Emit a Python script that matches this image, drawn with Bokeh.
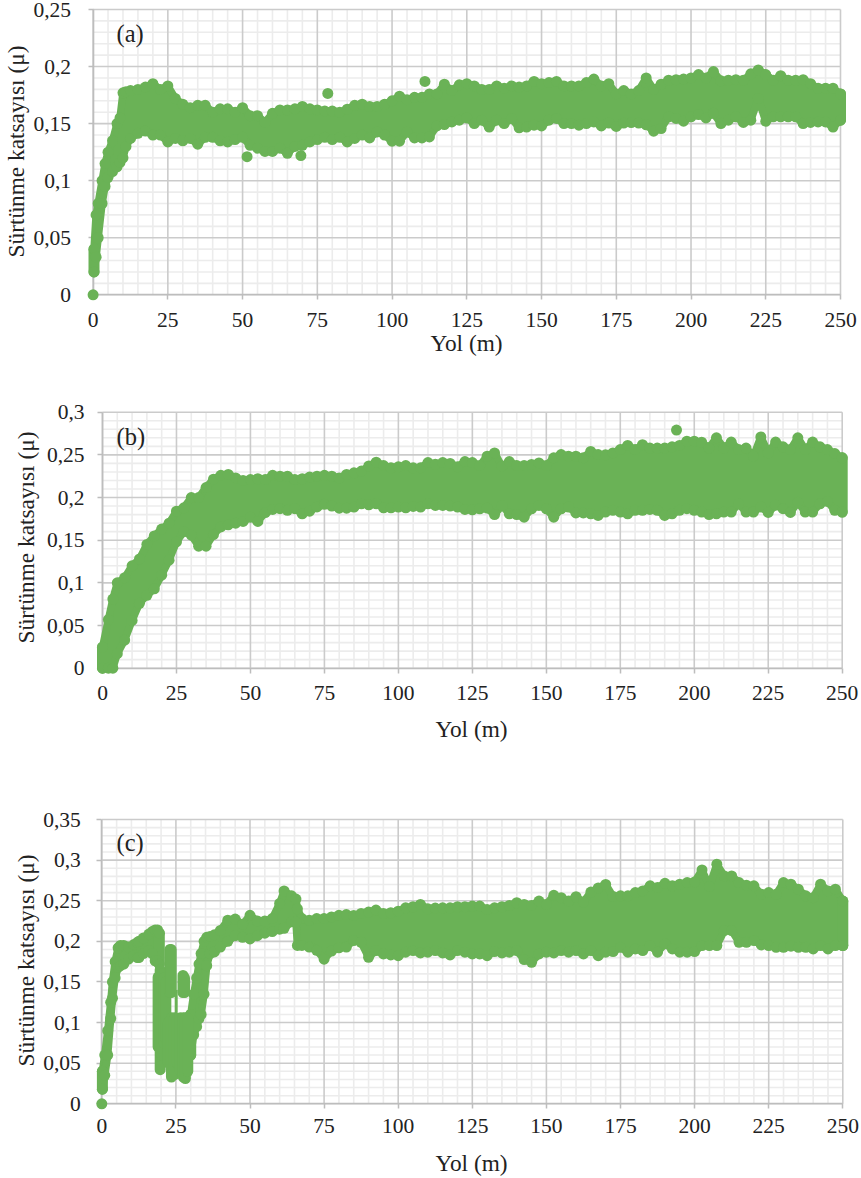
from bokeh.plotting import figure
from bokeh.layouts import column
from bokeh.models import Range1d, LinearAxis, FixedTicker, Label
from bokeh.embed import file_html
from bokeh.resources import INLINE

# ---------- data (band edges) ----------
x_tail = [85,87.5,90,92.5,95,97.5,100,102.5,105,107.5,110,112.5,115,117.5,120,122.5,125,127.5,130,132.5,135,137.5,140,142.5,145,147.5,150,152.5,155,157.5,160,162.5,165,167.5,
          170,172.5,175,177.5,180,182.5,185,187.5,190,192.5,195,197.5,200,202.5,205,207.5,210,212.5,215,217.5,220,222.5,225,227.5,230,232.5,235,237.5,240,242.5,245,247.5,250]

a_x = [0.3,1,1.7,3,4,5,6.5,8,9,10,11,12.5,15,17.5,20,22.5,25,27.5,30,32.5,35,37.5,40,42.5,45,47.5,50,52.5,55,57.5,60,62.5,65,67.5,70,72.5,75,77.5,80,82.5] + x_tail
a_hi = [.04,.07,.08,.1,.115,.125,.135,.15,.155,.177,.178,.179,.18,.182,.185,.18,.183,.172,.167,.164,.166,.166,.16,.163,.163,.16,.164,.157,.157,.151,.159,.162,.162,.163,.165,.163,.162,.161,.161,.16,
        .1626,.166,.167,.165,.165,.167,.17,.174,.171,.173,.173,.176,.176,.1845,.179,.184,.185,.183,.18,.18,.183,.181,.183,.182,.183,.187,.185,.186,.187,.183,.183,.183,.186,.189,
        .183,.185,.176,.179,.176,.179,.19,.18,.1845,.188,.1885,.189,.19,.193,.19,.1956,.1875,.188,.1885,.188,.1936,.197,.193,.188,.192,.188,.188,.1885,.185,.181,.181,.181,.176]
a_lo = [.02,.033,.05,.08,.095,.103,.108,.112,.116,.12,.13,.137,.1415,.1435,.14,.14,.134,.137,.135,.137,.132,.138,.138,.135,.134,.136,.138,.131,.1285,.1256,.1256,.1285,.124,.13,.131,.134,.136,.138,.136,.138,
        .134,.137,.14,.1375,.1427,.14,.1346,.1346,.1427,.1375,.1375,.1383,.148,.1492,.1515,.153,.155,.15,.153,.147,.153,.15,.1545,.1463,.147,.1486,.148,.153,.1545,.15,.15,.1486,.15,.1515,
        .148,.1505,.1475,.1505,.1509,.1505,.149,.1434,.1457,.156,.1545,.1521,.156,.158,.155,.159,.15,.153,.156,.151,.153,.172,.152,.156,.156,.156,.156,.15,.151,.1515,.1515,.147,.153]
a_out_x = [0,51.5,69.5,78.5,111]
a_out_y = [0,.121,.122,.1765,.187]

b_x = [0,2,3.5,5,7.5,10,12.5,15,17.5,20,22.5,25,27.5,30,32.5,35,37.5,40,42.5,45,47.5,50,52.5,55,57.5,60,62.5,65,67.5,70,72.5,75,77.5,80,82.5] + x_tail
b_hi = [.0246,.057,.081,.1,.106,.12,.128,.145,.155,.163,.17,.184,.188,.2,.2,.2117,.2215,.226,.227,.223,.22,.221,.222,.221,.226,.225,.225,.221,.222,.224,.225,.226,.225,.223,.227,
        .229,.231,.237,.2414,.2375,.2348,.236,.2375,.2348,.2348,.241,.239,.241,.24,.236,.2422,.241,.2375,.2485,.2523,.2367,.2422,.2375,.2375,.2387,.2406,.2375,.2465,.2504,.2484,.2484,.2465,.254,.2504,
        .25,.2523,.2562,.261,.2562,.262,.258,.258,.258,.2594,.261,.266,.266,.2648,.258,.27,.258,.265,.2562,.258,.2484,.271,.2523,.265,.2594,.2562,.27,.2562,.265,.2594,.2562,.2515,.2465]
b_lo = [0,0,0,.017,.033,.056,.076,.0855,.093,.109,.1266,.148,.16,.156,.143,.143,.1566,.1656,.168,.17,.172,.177,.172,.1824,.186,.187,.185,.187,.181,.184,.189,.192,.19,.1875,.1875,
        .1888,.1927,.1915,.1927,.188,.188,.1888,.188,.1896,.1888,.1927,.1907,.1907,.19,.1888,.186,.1857,.1868,.1876,.18,.1907,.181,.18,.177,.1868,.1907,.1868,.177,.1868,.1888,.182,.182,.181,.179,
        .183,.185,.183,.181,.185,.185,.186,.185,.179,.181,.185,.187,.185,.183,.18,.181,.183,.183,.1927,.183,.183,.189,.1825,.191,.187,.1825,.1946,.183,.183,.1927,.1954,.185,.183]
b_out_x = [194]
b_out_y = [.279]

# panel c: the rise up to the first dips
c1_x = [0.2,1,2,3,3.6,4.5,5.5,6.3,7.4,9,10.8,12,12.5,14,15.9,17,18,18.8,19.4]
c1_hi = [.04,.06,.09,.125,.15,.175,.192,.195,.195,.193,.196,.1986,.2,.204,.209,.212,.214,.214,.21]
c1_lo = [.018,.035,.06,.105,.13,.155,.168,.17,.172,.178,.1825,.18,.18,.185,.1887,.185,.176,.176,.172]
# panel c: the columns of the dips at 20-30 m
c_dip_x = [19,19.7,20.3,21,21.6,23,23.4,27.4,27.9,22.5,23.5,24.5,25.5,26.5,27.5,28.2,29]
c_dip_hi = [.156,.165,.16,.155,.15,.19,.19,.158,.155,.1,.106,.106,.104,.106,.106,.106,.105]
c_dip_lo = [.07,.042,.06,.075,.08,.137,.137,.137,.137,.05,.033,.036,.05,.04,.033,.031,.04]
c_link_x = [25.1]
c_link_hi = [.14]
c_link_lo = [.105]
# panel c: the rest
c2_x = [30,31,32,32.8,33.5,34.5,35.4,36.5,38,40,42.5,45,47.5,50,52.5,55,57.5,60,61.5,64,65.5,66,67.5,70,72.5,75,77.5,80,82.5] + x_tail
c2_hi = [.11,.135,.155,.172,.185,.2,.205,.206,.208,.2135,.226,.2274,.221,.232,.225,.225,.228,.2466,.262,.256,.252,.24,.228,.226,.228,.228,.23,.232,.233,
        .2319,.2343,.236,.2385,.2343,.2352,.2372,.2413,.2426,.2455,.2401,.2409,.2413,.2413,.2426,.2426,.2434,.2434,.2393,.2413,.2426,.2442,.2475,.2455,.2442,.2496,.2455,.2566,.2537,.2496,.2549,.2484,.2607,.2657,
        .27,.2552,.256,.256,.2601,.2621,.2683,.2662,.2714,.2683,.2703,.2724,.2732,.2879,.2675,.295,.2805,.2805,.2724,.2691,.2683,.2579,.26,.2579,.2724,.2703,.2642,.256,.2538,.2703,.2621,.2642,.2496]
c2_lo = [.06,.085,.095,.105,.11,.135,.17,.185,.187,.193,.2,.207,.205,.203,.207,.21,.212,.215,.216,.224,.224,.195,.195,.193,.189,.178,.188,.192,.193,
        .201,.1989,.1804,.1886,.1845,.1833,.1824,.1866,.1886,.1857,.1866,.1886,.1857,.1833,.1886,.1866,.1845,.1845,.1824,.1874,.1857,.1866,.1886,.1775,.1742,.1845,.1866,.1857,.1886,.1866,.1886,.1845,.1886,.1824,
        .1866,.1874,.1927,.1866,.1907,.1886,.1948,.1866,.1969,.1907,.1866,.1866,.1874,.1948,.1948,.1948,.2133,.2133,.1989,.1989,.201,.1956,.1948,.1927,.1927,.194,.1927,.1927,.1907,.1948,.1907,.1948,.1948]
c_out_x = [0]
c_out_y = [0]

x_ticks = [0,25,50,75,100,125,150,175,200,225,250]
x_minor = [5,10,15,20,30,35,40,45,55,60,65,70,80,85,90,95,105,110,115,120,130,135,140,145,155,160,165,170,180,185,190,195,205,210,215,220,230,235,240,245]
a_ticks = [0,.05,.1,.15,.2,.25]
a_labels = ["0","0,05","0,1","0,15","0,2","0,25"]
b_ticks = a_ticks + [.3]
b_labels = a_labels + ["0,3"]
c_ticks = b_ticks + [.35]
c_labels = b_labels + ["0,35"]
y_title = "Sürtünme katsayısı (μ)"
x_title = "Yol (m)"

GREEN = "#6ab256"
TXT = "#222222"
FONT = "Liberation Serif"
TICK_PX = "21.5px"
TITLE_PX = "23.3px"
TAG_PX = "24.5px"


def band(p, xs, hi, lo):
    p.varea(xs, lo, hi, fill_color=GREEN)
    p.line(xs, hi, line_color=GREEN, line_width=7.5, line_join="round", line_cap="round")
    p.line(xs, lo, line_color=GREEN, line_width=7.5, line_join="round", line_cap="round")
    p.segment([xs[0], xs[-1]], [lo[0], lo[-1]], [xs[0], xs[-1]], [hi[0], hi[-1]],
              line_color=GREEN, line_width=11, line_cap="round")
    p.scatter(xs + xs, hi + lo, size=11, fill_color=GREEN, line_color=None)


def panel(H, px0, px250, py0, pytop, ymax, ticks, labels, bands, ox, oy, tag, tag_xy,
          ylab_x, ylab_y, xlab_x, xlab_y, xstand, ystand):
    W = 861
    sx = (px250 - px0) / 250
    sy = (py0 - pytop) / ymax
    p = figure(width=W, height=H, output_backend="svg", toolbar_location=None,
               x_axis_type=None, y_axis_type=None, min_border=0,
               x_range=Range1d((0 - px0) / sx, (W - px0) / sx),
               y_range=Range1d((py0 - H) / sy, py0 / sy))
    p.outline_line_color = None
    p.grid.visible = False
    dx = lambda v: (v - px0) / sx
    dy = lambda v: (py0 - v) / sy

    minor_y = [round(i * 0.01, 2) for i in range(1, int(round(ymax * 100)) + 1) if i % 5]
    p.segment(x_minor, [0] * len(x_minor), x_minor, [ymax] * len(x_minor), line_color="#ececec", line_width=1.6, level="image")
    p.segment([0] * len(minor_y), minor_y, [250] * len(minor_y), minor_y, line_color="#ececec", line_width=1.6, level="image")
    p.segment(x_ticks, [0] * len(x_ticks), x_ticks, [ymax] * len(x_ticks), line_color="#cbcbcb", line_width=1.6, level="image")
    p.segment([0] * len(ticks), ticks, [250] * len(ticks), ticks, line_color="#cbcbcb", line_width=1.6, level="image")

    xax = LinearAxis(fixed_location=0, bounds=(0, 250), ticker=FixedTicker(ticks=x_ticks), level="underlay")
    xax.major_label_overrides = {t: str(t) for t in x_ticks}
    yax = LinearAxis(fixed_location=0, bounds=(0, ymax), ticker=FixedTicker(ticks=ticks), level="underlay")
    yax.major_label_overrides = dict(zip(ticks, labels))
    for ax, st in ((xax, xstand), (yax, ystand)):
        ax.axis_line_color = "#bdbdbd"
        ax.axis_line_width = 1.6
        ax.major_tick_line_color = "#bdbdbd"
        ax.major_tick_line_width = 1.5
        ax.major_tick_in = 0
        ax.major_tick_out = 5
        ax.minor_tick_line_color = None
        ax.major_label_text_font = FONT
        ax.major_label_text_font_size = TICK_PX
        ax.major_label_text_color = TXT
        ax.major_label_standoff = st
    p.add_layout(xax, "below")
    p.add_layout(yax, "left")

    for xs, hi, lo in bands:
        band(p, xs, hi, lo)
    p.scatter(ox, oy, size=11, fill_color=GREEN, line_color=None)

    p.add_layout(Label(x=dx(tag_xy[0]), y=dy(tag_xy[1]), text=tag, text_font=FONT, text_font_size=TAG_PX,
                       text_color=TXT, text_align="left", text_baseline="middle"))
    p.add_layout(Label(x=dx(ylab_x), y=dy(ylab_y), text=y_title, text_font=FONT, text_font_size=TITLE_PX,
                       text_color=TXT, angle=90, angle_units="deg", text_align="center", text_baseline="middle"))
    p.add_layout(Label(x=dx(xlab_x), y=dy(xlab_y), text=x_title, text_font=FONT, text_font_size=TITLE_PX,
                       text_color=TXT, text_align="center", text_baseline="middle"))
    return p


H_A, H_B, H_C = 370, 390, 416
pa = panel(H_A, 92.6, 840, 294.3, 9, .25, a_ticks, a_labels, [(a_x, a_hi, a_lo)], a_out_x, a_out_y,
           "(a)", (116, 33), 15, 151, 466, 342, 13, 17)
pb = panel(H_B, 102, 841.7, 667.7 - H_A, 411.7 - H_A, .3, b_ticks, b_labels, [(b_x, b_hi, b_lo)], b_out_x, b_out_y,
           "(b)", (116, 436 - H_A), 25, 537 - H_A, 471, 728 - H_A, 13, 13)
pc_parts = [(c1_x, c1_hi, c1_lo), (c2_x, c2_hi, c2_lo)]
pc = panel(H_C, 101.3, 842.3, 1103.3 - H_A - H_B, 819 - H_A - H_B, .35, c_ticks, c_labels, pc_parts, c_out_x, c_out_y,
           "(c)", (116, 842 - H_A - H_B), 25, 960 - H_A - H_B, 471, 1162 - H_A - H_B, 10, 16)
pc.segment(c_dip_x, c_dip_lo, c_dip_x, c_dip_hi, line_color=GREEN, line_width=11, line_cap="round")
pc.segment(c_link_x, c_link_lo, c_link_x, c_link_hi, line_color=GREEN, line_width=3)

layout = column(pa, pb, pc, spacing=0)
open("out.html", "w").write(file_html(layout, INLINE))
